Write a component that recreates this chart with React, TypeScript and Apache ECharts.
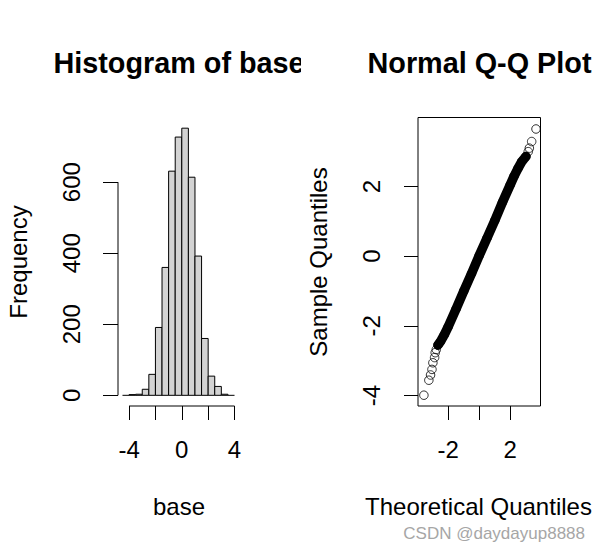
import React, { useEffect, useRef } from "react";
import * as echarts from "echarts";

// ---------- Histogram data ----------
const histBinStarts = [-4.5, -4, -3.5, -3, -2.5, -2, -1.5, -1, -0.5, 0, 0.5, 1, 1.5, 2, 2.5, 3, 3.5];
const histBinWidth = 0.5;
const histCounts = [0, 2, 3, 17, 59, 191, 360, 631, 727, 752, 614, 392, 160, 54, 25, 3, 0];
const histXTicks = [-4, -2, 0, 2, 4];
const histXLabels = [-4, 0, 4];
const histYTicks = [0, 200, 400, 600];

// ---------- Normal Q-Q data ----------
const qqTheoretical = [
  -3.57, -3.25, -3.14, -3.05, -2.99, -2.88, -2.84, -2.77, -2.66, -2.5, -2.25, -2.0, -1.5, -1.0, -0.5, 0,
  0.5, 1.0, 1.5, 2.0, 2.25, 2.5, 2.75, 3.01, 3.16, 3.23, 3.38, 3.66,
];
const qqSample = [
  -3.99, -3.56, -3.41, -3.25, -3.06, -2.91, -2.77, -2.68, -2.55, -2.45, -2.25, -2.02, -1.52, -1.0, -0.5, 0.02,
  0.52, 1.02, 1.55, 2.05, 2.3, 2.52, 2.72, 2.86, 3.0, 3.1, 3.29, 3.65,
];
// the dense part of the sample forms a solid band between these theoretical quantiles
const qqBandFrom = -2.7;
const qqBandTo = 3.05;
const qqXTicks = [-2, 0, 2];
const qqXLabels = [-2, 2];
const qqYTicks = [-4, -2, 0, 2];

const FONT = '"Liberation Sans", Arial, sans-serif';

export default function App() {
  const ref = useRef<HTMLDivElement>(null);

  useEffect(() => {
    if (!ref.current) return;
    const chart = echarts.init(ref.current, undefined, { renderer: "svg" });

    const histMin = histBinStarts[0];
    const histMax = histBinStarts[histBinStarts.length - 1] + histBinWidth;
    const hxPad = (histMax - histMin) * 0.04;
    const hxMin = histMin - hxPad;
    const hxMax = histMax + hxPad;
    const hyTop = Math.max(...histCounts);
    const hyMin = -hyTop * 0.04;
    const hyMax = hyTop * 1.04;

    const qxMin = -3.95, qxMax = 3.95;
    const qyMin = -4.3, qyMax = 3.98;

    const histData = histBinStarts.map((s, i) => [s, s + histBinWidth, histCounts[i]]);
    const qqPoints = qqTheoretical.map((t, i) => [t, qqSample[i]]);
    const bandPoints = qqPoints.filter((p) => p[0] >= qqBandFrom && p[0] <= qqBandTo);

    const axisLabelStyle = { color: "#000", fontSize: 24, fontFamily: FONT };
    const noLine = { show: false, onZero: false };

    const option: any = {
      animation: false,
      backgroundColor: "#fff",
      grid: [
        { left: 118, top: 117.5, width: 121, height: 288.5, show: false },
        { left: 418, top: 117.5, width: 122.5, height: 288.5, show: true, borderColor: "#000", borderWidth: 1, backgroundColor: "transparent" },
      ],
      xAxis: [
        {
          type: "value", gridIndex: 0, min: hxMin, max: hxMax, position: "bottom",
          splitLine: { show: false }, axisLine: noLine,
          axisTick: { show: true, customValues: histXTicks, length: 14, inside: false, lineStyle: { color: "#000" } },
          axisLabel: { show: true, customValues: histXLabels, margin: 31, ...axisLabelStyle },
        },
        {
          type: "value", gridIndex: 1, min: qxMin, max: qxMax, position: "bottom",
          splitLine: { show: false }, axisLine: noLine,
          axisTick: { show: true, customValues: qqXTicks, length: 14, lineStyle: { color: "#000" } },
          axisLabel: { show: true, customValues: qqXLabels, margin: 31, ...axisLabelStyle },
        },
      ],
      yAxis: [
        {
          type: "value", gridIndex: 0, min: hyMin, max: hyMax, position: "left",
          splitLine: { show: false }, axisLine: noLine,
          axisTick: { show: true, customValues: histYTicks, length: 15, lineStyle: { color: "#000" } },
          axisLabel: { show: true, customValues: histYTicks, rotate: 90, margin: 35, ...axisLabelStyle },
        },
        {
          type: "value", gridIndex: 1, min: qyMin, max: qyMax, position: "left",
          splitLine: { show: false }, axisLine: noLine,
          axisTick: { show: true, customValues: qqYTicks, length: 14, lineStyle: { color: "#000" } },
          axisLabel: { show: true, customValues: qqYTicks, rotate: 90, margin: 35, ...axisLabelStyle },
        },
      ],
      series: [
        {
          type: "custom",
          xAxisIndex: 0, yAxisIndex: 0,
          data: histData,
          encode: { x: [0, 1], y: 2 },
          clip: false,
          renderItem: (params: any, api: any) => {
            const lo = api.value(0), hi = api.value(1), c = api.value(2);
            const p0 = api.coord([lo, 0]);
            const p1 = api.coord([hi, c]);
            if (c === 0) {
              return {
                type: "line",
                shape: { x1: p0[0], y1: p0[1], x2: p1[0], y2: p0[1] },
                style: { stroke: "#000", lineWidth: 1 },
              };
            }
            return {
              type: "rect",
              shape: { x: p0[0], y: p1[1], width: p1[0] - p0[0], height: p0[1] - p1[1] },
              style: { fill: "#d3d3d3", stroke: "#000", lineWidth: 1 },
            };
          },
        },
        {
          type: "line", xAxisIndex: 0, yAxisIndex: 0, silent: true, clip: false,
          symbol: "none",
          data: [[hxMin, histYTicks[0]], [hxMin, histYTicks[histYTicks.length - 1]]],
          lineStyle: { color: "#000", width: 1 },
        },
        {
          type: "line", xAxisIndex: 0, yAxisIndex: 0, silent: true, clip: false,
          symbol: "none",
          data: [[histXTicks[0], hyMin], [histXTicks[histXTicks.length - 1], hyMin]],
          lineStyle: { color: "#000", width: 1 },
        },
        {
          type: "line", xAxisIndex: 1, yAxisIndex: 1, silent: true, clip: false,
          symbol: "none", z: 2,
          data: bandPoints,
          lineStyle: { color: "#000", width: 9.5, cap: "round", join: "round" },
        },
        {
          type: "scatter", xAxisIndex: 1, yAxisIndex: 1, silent: true, clip: false,
          symbol: "circle", symbolSize: 8.5, z: 3,
          data: qqPoints,
          itemStyle: { color: "rgba(0,0,0,0)", borderColor: "#000", borderWidth: 1 },
        },
      ],
      graphic: [
        {
          type: "text", x: 179, y: 63, z: 10,
          style: { text: "Histogram of base", font: `bold 28.8px ${FONT}`, fill: "#000", textAlign: "center", textVerticalAlign: "middle", align: "center", verticalAlign: "middle" },
        },
        { type: "rect", z: 20, shape: { x: 301, y: 35, width: 60, height: 55 }, style: { fill: "#fff" } },
        {
          type: "text", x: 479.5, y: 63, z: 30,
          style: { text: "Normal Q-Q Plot", font: `bold 28.8px ${FONT}`, fill: "#000", textAlign: "center", textVerticalAlign: "middle", align: "center", verticalAlign: "middle" },
        },
        {
          type: "text", x: 179, y: 506.5, z: 10,
          style: { text: "base", font: `24px ${FONT}`, fill: "#000", textAlign: "center", textVerticalAlign: "middle", align: "center", verticalAlign: "middle" },
        },
        {
          type: "text", x: 478.5, y: 506.5, z: 10,
          style: { text: "Theoretical Quantiles", font: `24px ${FONT}`, fill: "#000", textAlign: "center", textVerticalAlign: "middle", align: "center", verticalAlign: "middle" },
        },
        {
          type: "text", x: 18, y: 262, rotation: Math.PI / 2, z: 10,
          style: { text: "Frequency", font: `24px ${FONT}`, fill: "#000", textAlign: "center", textVerticalAlign: "middle", align: "center", verticalAlign: "middle" },
        },
        {
          type: "text", x: 318, y: 262, rotation: Math.PI / 2, z: 10,
          style: { text: "Sample Quantiles", font: `24px ${FONT}`, fill: "#000", textAlign: "center", textVerticalAlign: "middle", align: "center", verticalAlign: "middle" },
        },
        {
          type: "text", x: 585, y: 533, z: 10,
          style: { text: "CSDN @daydayup8888", font: `17px ${FONT}`, fill: "#a6a6a6", textAlign: "right", textVerticalAlign: "middle", align: "right", verticalAlign: "middle" },
        },
      ],
    };

    chart.setOption(option);
    return () => chart.dispose();
  }, []);

  return (
    <div
      ref={ref}
      style={{ position: "fixed", left: 0, top: 0, width: 601, height: 553, background: "#fff" }}
    />
  );
}
